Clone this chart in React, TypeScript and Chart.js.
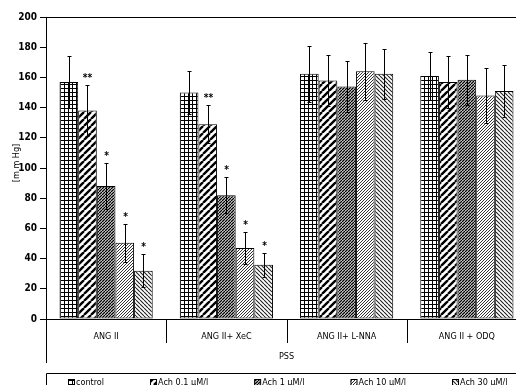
import React, { useEffect, useRef } from "react";
import { Chart, registerables } from "chart.js";

Chart.register(...registerables);

// Treatment groups along the x axis
const categories = ["ANG II", "ANG II+ XeC", "ANG II+ L-NNA", "ANG II + ODQ"];
const groupLabel = "PSS";

// Series (mean pressure, mm Hg)
const seriesLabels = ["control", "Ach 0.1 μM/l", "Ach 1 μM/l", "Ach 10 μM/l", "Ach 30 μM/l"];
const control = [157, 150, 162.5, 161];
const ach01 = [138, 129, 158, 157];
const ach1 = [88, 82, 154, 158.5];
const ach10 = [50.5, 47, 164, 148];
const ach30 = [32, 36, 162.5, 151];

// Error bar half-lengths
const controlErr = [17, 14, 18.5, 16];
const ach01Err = [17, 12.5, 17, 17];
const ach1Err = [15, 12, 17, 16.5];
const ach10Err = [12.5, 10.5, 19, 18];
const ach30Err = [11, 8, 16.5, 17];

// Significance marks per series, per category
const controlSig = ["", "", "", ""];
const ach01Sig = ["**", "**", "", ""];
const ach1Sig = ["*", "*", "", ""];
const ach10Sig = ["*", "*", "", ""];
const ach30Sig = ["*", "*", "", ""];

// Y axis
const yTicks = [0, 20, 40, 60, 80, 100, 120, 140, 160, 180, 200];
const yTitle = "[m m Hg]";

const FONT = '"Liberation Sans Narrow", "DejaVu Sans Condensed", "Arial Narrow", sans-serif';

type Kind = "grid" | "wide" | "dense" | "light" | "back";
const patternKinds: Kind[] = ["grid", "wide", "dense", "light", "back"];

function makePattern(kind: Kind): CanvasPattern | string {
  const c = document.createElement("canvas");
  let p = 4;
  if (kind === "wide") p = 7;
  if (kind === "dense") p = 3;
  if (kind === "light") p = 3;
  if (kind === "back") p = 4;
  c.width = p;
  c.height = p;
  const g = c.getContext("2d");
  if (!g) return "#fff";
  g.fillStyle = "#fff";
  g.fillRect(0, 0, p, p);
  if (kind === "grid") {
    g.fillStyle = "#000";
    g.fillRect(0, 0, p, 1);
    g.fillRect(0, 0, 1, p);
  } else {
    let lw = 1;
    let col = "#000";
    if (kind === "wide") lw = 2.4;
    if (kind === "dense") lw = 1.4;
    if (kind === "light") { lw = 1; col = "#333"; }
    if (kind === "back") { lw = 1.1; col = "#222"; }
    g.strokeStyle = col;
    g.lineWidth = lw;
    g.beginPath();
    for (const k of [-p, 0, p]) {
      if (kind === "back") {
        g.moveTo(k, 0);
        g.lineTo(k + p, p);
      } else {
        g.moveTo(k, p);
        g.lineTo(k + p, 0);
      }
    }
    g.stroke();
  }
  const pat = g.createPattern(c, "repeat");
  return pat || "#fff";
}

export default function App() {
  const ref = useRef<HTMLCanvasElement | null>(null);

  useEffect(() => {
    if (!ref.current) return;
    const values = [control, ach01, ach1, ach10, ach30];
    const errors = [controlErr, ach01Err, ach1Err, ach10Err, ach30Err];
    const sigs = [controlSig, ach01Sig, ach1Sig, ach10Sig, ach30Sig];
    const patterns = patternKinds.map((k) => makePattern(k));

    const extras = {
      id: "extras",
      afterDatasetsDraw(chart: any) {
        const ctx = chart.ctx as CanvasRenderingContext2D;
        const yS = chart.scales.y;
        ctx.save();
        // error bars and significance marks
        ctx.strokeStyle = "#000";
        ctx.lineWidth = 1;
        values.forEach((vals, i) => {
          const meta = chart.getDatasetMeta(i);
          meta.data.forEach((el: any, j: number) => {
            const x = Math.round(el.x) + 0.5;
            const hi = Math.round(yS.getPixelForValue(vals[j] + errors[i][j])) + 0.5;
            const lo = Math.round(yS.getPixelForValue(vals[j] - errors[i][j])) + 0.5;
            ctx.beginPath();
            ctx.moveTo(x, lo);
            ctx.lineTo(x, hi);
            ctx.moveTo(x - 2, hi);
            ctx.lineTo(x + 2, hi);
            ctx.moveTo(x - 2, lo);
            ctx.lineTo(x + 2, lo);
            ctx.stroke();
            const s = sigs[i][j];
            if (s) {
              ctx.fillStyle = "#000";
              ctx.font = `bold 10px ${FONT}`;
              ctx.textAlign = "center";
              ctx.textBaseline = "middle";
              ctx.fillText(s, x, hi - 7);
            }
          });
        });
        ctx.restore();
      },
      afterDraw(chart: any) {
        const ctx = chart.ctx as CanvasRenderingContext2D;
        const area = chart.chartArea;
        ctx.save();
        ctx.strokeStyle = "#000";
        ctx.lineWidth = 1;
        // top frame line
        ctx.beginPath();
        ctx.moveTo(area.left, Math.round(area.top) + 0.5);
        ctx.lineTo(area.right, Math.round(area.top) + 0.5);
        ctx.stroke();
        // left axis extension below the plot
        const lx = Math.round(area.left) + 0.5;
        ctx.beginPath();
        ctx.moveTo(lx, area.bottom);
        ctx.lineTo(lx, area.bottom + 44);
        ctx.stroke();
        // category dividers
        const step = (area.right - area.left) / categories.length;
        for (let i = 1; i < categories.length; i++) {
          const dx = Math.round(area.left + step * i) + 0.5;
          ctx.beginPath();
          ctx.moveTo(dx, area.bottom);
          ctx.lineTo(dx, area.bottom + 24);
          ctx.stroke();
        }
        // outer group label
        ctx.fillStyle = "#000";
        ctx.font = `9px ${FONT}`;
        ctx.textAlign = "center";
        ctx.textBaseline = "middle";
        ctx.fillText(groupLabel, (area.left + area.right) / 2, area.bottom + 38);
        // y title
        ctx.save();
        ctx.translate(17, 163);
        ctx.rotate(-Math.PI / 2);
        ctx.font = `9px ${FONT}`;
        ctx.fillText(yTitle, 0, 0);
        ctx.restore();
        // legend box
        const bx = Math.round(area.left) + 0.5;
        const by = 373.5;
        ctx.beginPath();
        ctx.moveTo(bx, chart.height + 2);
        ctx.lineTo(bx, by);
        ctx.lineTo(chart.width + 2, by);
        ctx.stroke();
        ctx.font = `9px ${FONT}`;
        ctx.textAlign = "left";
        let lxp = 68;
        seriesLabels.forEach((lab, i) => {
          ctx.fillStyle = patterns[i] as any;
          ctx.fillRect(lxp, 379, 6, 6);
          ctx.strokeRect(lxp + 0.5, 379.5, 6, 6);
          ctx.fillStyle = "#000";
          ctx.fillText(lab, lxp + 8, 382.5);
          lxp += 8 + ctx.measureText(lab).width + 46;
        });
        ctx.restore();
      },
    };

    const chart = new Chart(ref.current, {
      type: "bar",
      data: {
        labels: categories,
        datasets: values.map((vals, i) => ({
          label: seriesLabels[i],
          data: vals,
          backgroundColor: patterns[i] as any,
          borderColor: "#000",
          borderWidth: 1,
          borderSkipped: false,
          barPercentage: 1,
          categoryPercentage: 0.775,
        })),
      },
      options: {
        responsive: false,
        animation: false,
        devicePixelRatio: 1,
        layout: { padding: { left: 0, top: 17, right: 13, bottom: 0 } },
        plugins: {
          legend: { display: false },
          tooltip: { enabled: false },
        },
        scales: {
          x: {
            grid: { display: false, drawTicks: false },
            border: { display: true, color: "#000", width: 1 },
            ticks: {
              color: "#000",
              padding: 12,
              maxRotation: 0,
              font: { family: FONT, size: 9 },
            },
            afterFit(scale: any) {
              scale.height = 66;
            },
          },
          y: {
            min: 0,
            max: 200,
            afterBuildTicks(scale: any) {
              scale.ticks = yTicks.map((v) => ({ value: v }));
            },
            grid: { drawOnChartArea: false, drawTicks: true, tickLength: 6, color: "#000" },
            border: { display: true, color: "#000", width: 1 },
            ticks: {
              color: "#000",
              padding: 3,
              font: { family: FONT, size: 10, weight: "bold" },
            },
            afterFit(scale: any) {
              scale.width = 46;
            },
          },
        },
      },
      plugins: [extras],
    });
    return () => chart.destroy();
  }, []);

  return (
    <div style={{ position: "absolute", left: 0, top: 0, width: 516, height: 385, overflow: "hidden", background: "#fff" }}>
      <canvas ref={ref} width={540} height={385} style={{ width: 540, height: 385, display: "block" }} />
    </div>
  );
}
